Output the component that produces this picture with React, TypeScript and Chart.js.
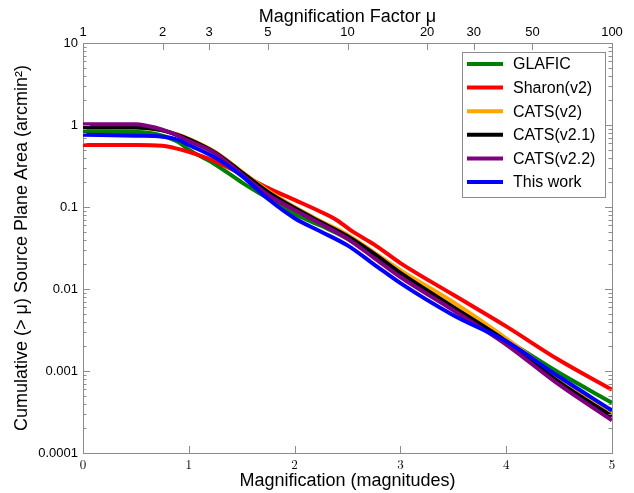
import React, { useEffect, useRef } from 'react';
import { Chart, registerables } from 'chart.js';

Chart.register(...registerables);

// ---- data (magnification in magnitudes -> cumulative source plane area, arcmin^2)
const seriesLabels = ['GLAFIC', 'Sharon(v2)', 'CATS(v2)', 'CATS(v2.1)', 'CATS(v2.2)', 'This work'];
const seriesColors = ['#008000', '#ff0000', '#ffa500', '#000000', '#800080', '#0000ff'];

const glaficMag = [0, 0.5, 0.6, 0.75, 0.9, 1.0, 1.25, 1.5, 1.75, 2.0, 2.25, 2.5, 2.75, 3.0, 3.5, 4.0, 4.5, 5.0];
const glaficArea = [0.83, 0.82, 0.81, 0.74, 0.62, 0.5, 0.33, 0.2, 0.127, 0.082, 0.059, 0.041, 0.025, 0.0152, 0.0059, 0.0024, 0.00095, 0.00041];

const sharonMag = [0, 0.5, 0.75, 0.85, 1.0, 1.25, 1.5, 1.75, 2.0, 2.25, 2.4, 2.55, 2.75, 3.0, 3.5, 4.0, 4.5, 5.0];
const sharonArea = [0.57, 0.57, 0.56, 0.53, 0.47, 0.36, 0.25, 0.17, 0.122, 0.087, 0.069, 0.05, 0.035, 0.0207, 0.0085, 0.0035, 0.00136, 0.00059];

const cats2Mag = [0, 0.5, 0.6, 0.75, 0.9, 1.0, 1.25, 1.5, 1.75, 2.0, 2.25, 2.5, 2.75, 3.0, 3.5, 4.0, 4.5, 5.0];
const cats2Area = [0.93, 0.93, 0.92, 0.86, 0.76, 0.68, 0.47, 0.27, 0.157, 0.1, 0.067, 0.046, 0.028, 0.017, 0.0069, 0.0025, 0.00082, 0.00031];

const cats21Mag = [0, 0.5, 0.6, 0.75, 0.9, 1.0, 1.25, 1.5, 1.75, 2.0, 2.25, 2.5, 2.75, 3.0, 3.5, 4.0, 4.5, 5.0];
const cats21Area = [0.93, 0.93, 0.92, 0.86, 0.75, 0.67, 0.46, 0.265, 0.152, 0.097, 0.065, 0.044, 0.027, 0.0157, 0.006, 0.0023, 0.00073, 0.00028];

const cats22Mag = [0, 0.5, 0.6, 0.75, 0.9, 1.0, 1.25, 1.5, 1.75, 2.0, 2.25, 2.5, 2.75, 3.0, 3.5, 4.0, 4.5, 5.0];
const cats22Area = [1.02, 1.02, 0.98, 0.88, 0.74, 0.64, 0.45, 0.25, 0.14, 0.092, 0.062, 0.041, 0.024, 0.014, 0.0055, 0.0021, 0.00068, 0.00025];

const thisWorkMag = [0, 0.5, 0.75, 0.9, 1.0, 1.1, 1.25, 1.5, 1.75, 2.0, 2.25, 2.5, 2.75, 3.0, 3.5, 4.0, 4.5, 5.0];
const thisWorkArea = [0.76, 0.74, 0.72, 0.66, 0.57, 0.5, 0.4, 0.24, 0.125, 0.073, 0.05, 0.034, 0.02, 0.0118, 0.0048, 0.0023, 0.00085, 0.00033];

const seriesMag = [glaficMag, sharonMag, cats2Mag, cats21Mag, cats22Mag, thisWorkMag];
const seriesArea = [glaficArea, sharonArea, cats2Area, cats21Area, cats22Area, thisWorkArea];

const yTickValues = [0.0001, 0.001, 0.01, 0.1, 1, 10];
const yTickLabels = ['0.0001', '0.001', '0.01', '0.1', '1', '10'];
const xTickValues = [0, 1, 2, 3, 4, 5];
const muTickValues = [1, 2, 3, 5, 10, 20, 30, 50, 100];
const muTickLabels = ['1', '2', '3', '5', '10', '20', '30', '50', '100'];

const SANS = '"Liberation Sans", Arial, Helvetica, sans-serif';
const SERIF = '"Latin Modern Roman", "DejaVu Serif", "Liberation Serif", serif';
const FRAME = '#8c8c8c';

const muToMag = (mu: number) => 2.5 * Math.log10(mu);

const innerTicks = {
  id: 'innerTicks',
  afterDraw(chart: any) {
    const { ctx, chartArea: a, scales } = chart;
    const y = scales.y;
    const x = scales.x;
    ctx.save();
    ctx.strokeStyle = FRAME;
    ctx.lineWidth = 1;
    ctx.beginPath();
    for (let d = 0; d < yTickValues.length; d++) {
      const base = yTickValues[d];
      for (let k = 1; k <= 9; k++) {
        const v = base * k;
        if (v > 10.0001) break;
        const py = Math.round(y.getPixelForValue(v)) + 0.5;
        const len = k === 1 ? 7 : 3.5;
        ctx.moveTo(a.left, py);
        ctx.lineTo(a.left + len, py);
        ctx.moveTo(a.right, py);
        ctx.lineTo(a.right - len, py);
      }
    }
    for (const v of xTickValues) {
      const px = Math.round(x.getPixelForValue(v)) + 0.5;
      ctx.moveTo(px, a.bottom);
      ctx.lineTo(px, a.bottom - 7);
    }
    for (const mu of muTickValues) {
      const px = Math.round(x.getPixelForValue(muToMag(mu))) + 0.5;
      ctx.moveTo(px, a.top);
      ctx.lineTo(px, a.top + 7);
    }
    ctx.stroke();
    ctx.restore();
  },
};

const boxLegend = {
  id: 'boxLegend',
  afterDatasetsDraw(chart: any) {
    const { ctx, chartArea: a } = chart;
    const right = a.right - 7;
    const left = right - 143;
    const top = a.top + 9;
    const rowH = 23.6;
    const bottom = top + 145;
    ctx.save();
    ctx.fillStyle = '#ffffff';
    ctx.fillRect(left, top, right - left, bottom - top);
    ctx.strokeStyle = FRAME;
    ctx.lineWidth = 1;
    ctx.strokeRect(Math.round(left) + 0.5, Math.round(top) + 0.5, right - left, bottom - top);
    ctx.font = `16px ${SANS}`;
    ctx.textBaseline = 'middle';
    ctx.textAlign = 'left';
    seriesLabels.forEach((lab, i) => {
      const cy = top + 12 + i * rowH;
      ctx.strokeStyle = seriesColors[i];
      ctx.lineWidth = 4;
      ctx.beginPath();
      ctx.moveTo(left + 5, cy);
      ctx.lineTo(left + 41, cy);
      ctx.stroke();
      ctx.fillStyle = '#000000';
      ctx.fillText(lab, left + 51, cy + 1);
    });
    ctx.restore();
  },
};

export default function App() {
  const ref = useRef<HTMLCanvasElement>(null);
  useEffect(() => {
    document.body.style.margin = '0';
    const canvas = ref.current!;
    const datasets = seriesLabels.map((label, i) => ({
      label,
      data: seriesMag[i].map((m, j) => ({ x: m, y: seriesArea[i][j] })),
      borderColor: seriesColors[i],
      backgroundColor: seriesColors[i],
      borderWidth: 4,
      pointRadius: 0,
      cubicInterpolationMode: 'monotone' as const,
      fill: false,
      order: seriesLabels.length - i,
      xAxisID: 'x',
      yAxisID: 'y',
    }));
    const chart = new Chart(canvas, {
      type: 'line',
      data: { datasets },
      plugins: [innerTicks, boxLegend],
      options: {
        animation: false,
        responsive: true,
        maintainAspectRatio: false,
        layout: { padding: 0 },
        plugins: { legend: { display: false }, tooltip: { enabled: false } },
        scales: {
          x: {
            type: 'linear',
            position: 'bottom',
            min: 0,
            max: 5,
            afterBuildTicks: (s: any) => { s.ticks = xTickValues.map((v) => ({ value: v })); },
            afterFit: (s: any) => { s.height = 40; },
            grid: { display: false, drawTicks: false },
            border: { display: true, color: FRAME, width: 1 },
            ticks: {
              autoSkip: false,
              maxRotation: 0,
              padding: 4,
              color: '#000',
              font: { family: SERIF, size: 13 },
              callback: (v: any) => String(v),
            },
            title: {
              display: true,
              text: 'Magnification (magnitudes)',
              color: '#000',
              font: { family: SANS, size: 18 },
              padding: { top: 0, bottom: 1 },
            },
          },
          x2: {
            type: 'linear',
            position: 'top',
            min: 0,
            max: 5,
            afterBuildTicks: (s: any) => { s.ticks = muTickValues.map((mu) => ({ value: muToMag(mu) })); },
            afterFit: (s: any) => { s.height = 43; },
            grid: { display: false, drawTicks: false },
            border: { display: true, color: FRAME, width: 1 },
            ticks: {
              autoSkip: false,
              maxRotation: 0,
              padding: 3,
              color: '#000',
              font: { family: SANS, size: 13 },
              callback: (_v: any, i: number) => muTickLabels[i],
            },
            title: {
              display: true,
              text: 'Magnification Factor μ',
              color: '#000',
              font: { family: SANS, size: 18 },
              padding: { top: 6, bottom: 0 },
            },
          },
          y: {
            type: 'logarithmic',
            position: 'left',
            min: 0.0001,
            max: 10,
            afterBuildTicks: (s: any) => { s.ticks = yTickValues.map((v) => ({ value: v })); },
            afterFit: (s: any) => { s.width = 83; },
            grid: { display: false, drawTicks: false },
            border: { display: true, color: FRAME, width: 1 },
            ticks: {
              autoSkip: false,
              padding: 5,
              color: '#000',
              font: { family: SANS, size: 13 },
              callback: (_v: any, i: number) => yTickLabels[i],
            },
            title: {
              display: true,
              text: 'Cumulative (> μ) Source Plane Area (arcmin²)',
              color: '#000',
              font: { family: SANS, size: 18 },
              padding: { top: 11, bottom: 0 },
            },
          },
          y2: {
            type: 'logarithmic',
            position: 'right',
            min: 0.0001,
            max: 10,
            afterFit: (s: any) => { s.width = 22; },
            grid: { display: false, drawTicks: false },
            border: { display: true, color: FRAME, width: 1 },
            ticks: { display: false },
          },
        },
      } as any,
    });
    return () => chart.destroy();
  }, []);
  return (
    <div style={{ position: 'relative', width: 634, height: 493 }}>
      <canvas ref={ref} />
    </div>
  );
}
